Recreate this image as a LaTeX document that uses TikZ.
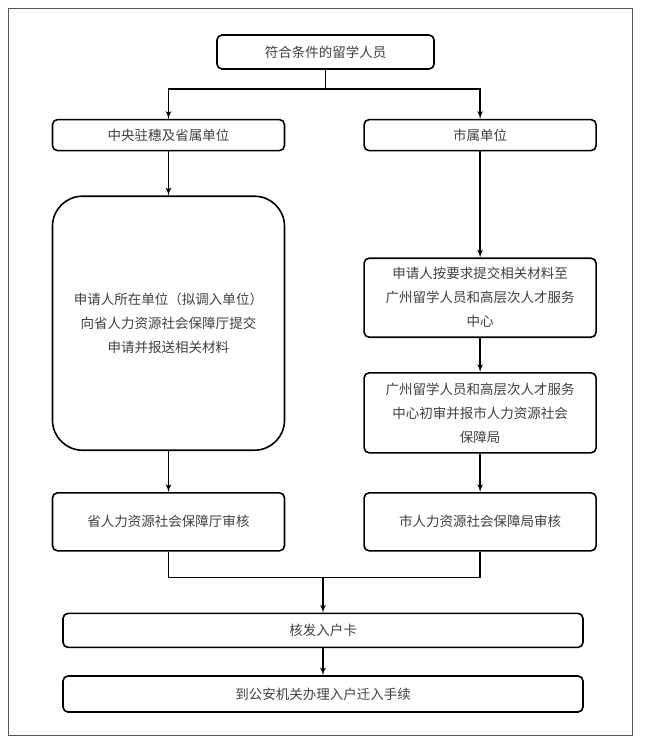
\documentclass[tikz,border=0pt]{standalone}
\usepackage{fontspec}
\setmainfont{Noto Sans CJK SC}
\usetikzlibrary{arrows, positioning}
\tikzstyle{box} = [rectangle, draw, line width=1.6bp, rounded corners=5bp, text=black!75, align=center, minimum width=232bp, minimum height=31bp, inner sep=0pt]
\tikzstyle{bigbox} = [box, rounded corners=30bp]
\tikzstyle{line} = [draw, line width=1.6bp, -latex']
\tikzstyle{link} = [draw, line width=1.6bp]

\begin{document}
\begin{tikzpicture}[x=1bp, y=-1bp, font=\fontsize{13.5bp}{24bp}\selectfont]
        % Frame
        \useasboundingbox (0,0) rectangle (648,744);
        \draw [black!65, line width=0.8bp] (8,8) rectangle (632,735);

        % Nodes
        \node [box, minimum width=217bp, minimum height=34bp] (start) at (325.5,52) {符合条件的留学人员};
        \node [box, below=49bp of start, xshift=-157bp] (central) {中央驻穗及省属单位};
        \node [box, right=78bp of central] (city) {市属单位};
        \node [bigbox, below=44bp of central, minimum height=254bp] (apply) {申请人所在单位（拟调入单位）\\向省人力资源社会保障厅提交\\申请并报送相关材料};
        \node [box, below=106bp of city, minimum height=79bp] (submit) {申请人按要求提交相关材料至\\广州留学人员和高层次人才服务\\中心};
        \node [box, below=34bp of submit, minimum height=80bp] (review) {广州留学人员和高层次人才服务\\中心初审并报市人力资源社会\\保障局};
        \node [box, below=41bp of apply, minimum height=58bp] (provaudit) {省人力资源社会保障厅审核};
        \node [box, right=78bp of provaudit, minimum height=58bp] (cityaudit) {市人力资源社会保障局审核};
        \node [box, below=61bp of provaudit, xshift=154.5bp, minimum width=520bp, minimum height=34bp] (card) {核发入户卡};
        \node [box, below=27bp of card, minimum width=520bp, minimum height=36bp] (police) {到公安机关办理入户迁入手续};
        \coordinate [below=19bp of start] (fork);
        \coordinate [above=35bp of card] (merge);

        % Arrows
        \path [link] (start) -- (fork);
        \path [line] (fork) -| (central);
        \path [line] (fork) -| (city);
        \path [line] (central) -- (apply);
        \path [line] (apply) -- (provaudit);
        \path [line] (city) -- (submit);
        \path [line] (submit) -- (review);
        \path [line] (review) -- (cityaudit);
        \path [link] (provaudit) |- (merge);
        \path [link] (cityaudit) |- (merge);
        \path [line] (merge) -- (card);
        \path [line] (card) -- (police);
    \end{tikzpicture}
\end{document}
